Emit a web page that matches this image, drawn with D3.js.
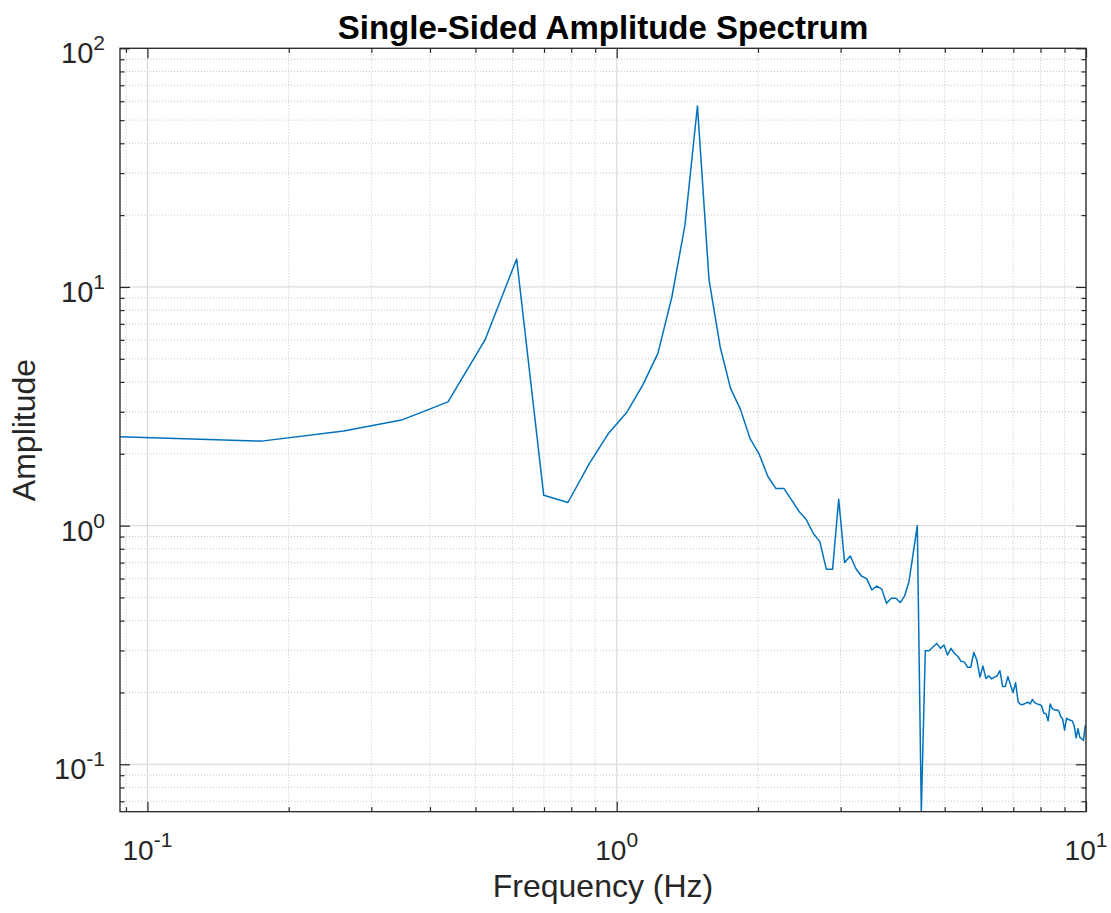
<!DOCTYPE html>
<html>
<head>
<meta charset="utf-8">
<script src="https://cdn.jsdelivr.net/npm/d3@7"></script>
<style>
  html, body { margin: 0; padding: 0; background: #fff; }
  svg { display: block; font-family: "Liberation Sans", Arial, Helvetica, sans-serif; }
</style>
</head>
<body>
<div id="chart"></div>
<script>
// frequency bins (Hz)
const freq = [
  0.0874, 0.175, 0.262, 0.350, 0.437, 0.524, 0.612, 0.699, 0.787, 0.874,
  0.961, 1.049, 1.136, 1.224, 1.311, 1.398, 1.486, 1.573, 1.661, 1.748,
  1.835, 1.923, 2.010, 2.098, 2.185, 2.272, 2.360, 2.447, 2.535, 2.622,
  2.709, 2.797, 2.884, 2.972, 3.059, 3.146, 3.234, 3.321, 3.409, 3.496,
  3.583, 3.671, 3.758, 3.846, 3.933, 4.020, 4.108, 4.195, 4.283, 4.370,
  4.457, 4.545, 4.632, 4.720, 4.807, 4.894, 4.982, 5.069, 5.157, 5.244,
  5.331, 5.419, 5.506, 5.594, 5.681, 5.768, 5.856, 5.943, 6.031, 6.118,
  6.205, 6.293, 6.380, 6.468, 6.555, 6.642, 6.730, 6.817, 6.905, 6.992,
  7.079, 7.167, 7.254, 7.342, 7.429, 7.516, 7.604, 7.691, 7.779, 7.866,
  7.953, 8.041, 8.128, 8.216, 8.303, 8.390, 8.478, 8.565, 8.653, 8.740,
  8.827, 8.915, 9.002, 9.090, 9.177, 9.264, 9.352, 9.439, 9.527, 9.614,
  9.701, 9.789, 9.876, 9.964, 10.051
];

// single-sided amplitude
const amp = [
  2.36, 2.26, 2.49, 2.78, 3.30, 6.0, 13.1, 1.34, 1.25, 1.82,
  2.44, 2.97, 3.88, 5.27, 9.1, 18.2, 57.3, 10.7, 5.62, 3.76,
  3.07, 2.32, 2.0, 1.61, 1.43, 1.43, 1.28, 1.145, 1.06, 0.929,
  0.857, 0.656, 0.656, 1.29, 0.70, 0.746, 0.66, 0.615, 0.60, 0.538,
  0.558, 0.542, 0.473, 0.496, 0.496, 0.476, 0.508, 0.582, 0.766, 1.0,
  0.0633, 0.299, 0.299, 0.31, 0.321, 0.306, 0.316, 0.287, 0.306, 0.292,
  0.283, 0.27, 0.268, 0.255, 0.255, 0.294, 0.272, 0.232, 0.258, 0.229,
  0.235, 0.228, 0.232, 0.235, 0.247, 0.212, 0.212, 0.233, 0.215, 0.2,
  0.22, 0.183, 0.178, 0.178, 0.18, 0.182, 0.179, 0.187, 0.181, 0.179,
  0.178, 0.176, 0.164, 0.163, 0.152, 0.179, 0.171, 0.169, 0.169, 0.168,
  0.159, 0.155, 0.139, 0.156, 0.154, 0.153, 0.152, 0.145, 0.129, 0.141,
  0.13, 0.128, 0.126, 0.145, 0.147
];

const xDecades = [-1, 0, 1];
const yDecades = [-1, 0, 1, 2];

const W = 1111, H = 913;
const pLeft = 120, pTop = 48.3, pRight = 1086, pBottom = 811.7;
const axisColor = "#262626";

const svg = d3.select("#chart").append("svg")
  .attr("width", W)
  .attr("height", H);

svg.append("rect").attr("width", W).attr("height", H).attr("fill", "#fff");

const x = d3.scaleLog().domain([freq[0], 10]).range([pLeft, pRight]);
const y = d3.scaleLog().domain([d3.min(amp), 100]).range([pBottom, pTop]);

const isMajor = v => Math.abs(Math.log10(v) - Math.round(Math.log10(v))) < 1e-9;
const xTicks = x.ticks();
const yTicks = y.ticks();

// grid
const grid = svg.append("g");
grid.selectAll(".gx")
  .data(xTicks)
  .join("line")
  .attr("x1", d => x(d)).attr("x2", d => x(d))
  .attr("y1", pTop).attr("y2", pBottom)
  .attr("stroke", d => isMajor(d) ? "#dcdcdc" : "#bfbfbf")
  .attr("stroke-width", d => isMajor(d) ? 1.2 : 0.9)
  .attr("stroke-dasharray", d => isMajor(d) ? null : "1,2");
grid.selectAll(".gy")
  .data(yTicks)
  .join("line")
  .attr("y1", d => y(d)).attr("y2", d => y(d))
  .attr("x1", pLeft).attr("x2", pRight)
  .attr("stroke", d => isMajor(d) ? "#dcdcdc" : "#bfbfbf")
  .attr("stroke-width", d => isMajor(d) ? 1.2 : 0.9)
  .attr("stroke-dasharray", d => isMajor(d) ? null : "1,2");

// line
svg.append("clipPath").attr("id", "clip")
  .append("rect")
  .attr("x", pLeft).attr("y", pTop)
  .attr("width", pRight - pLeft).attr("height", pBottom - pTop);

const line = d3.line()
  .x((d, i) => x(freq[i]))
  .y(d => y(d));

svg.append("path")
  .datum(amp)
  .attr("clip-path", "url(#clip)")
  .attr("fill", "none")
  .attr("stroke", "#0072BD")
  .attr("stroke-width", 1.5)
  .attr("stroke-linejoin", "round")
  .attr("d", line);

// axes with inward ticks on all four sides
function styleAxis(g, sign, horizontal) {
  g.select(".domain").remove();
  g.selectAll(".tick line")
    .attr("stroke", axisColor)
    .attr("stroke-width", 1.2)
    .attr(horizontal ? "y2" : "x2", d => sign * (isMajor(d) ? 10 : 4.5));
  g.selectAll(".tick text").remove();
}

svg.append("g").attr("transform", `translate(0,${pBottom})`)
  .call(d3.axisBottom(x).tickValues(xTicks).tickSizeOuter(0))
  .call(g => styleAxis(g, -1, true));
svg.append("g").attr("transform", `translate(0,${pTop})`)
  .call(d3.axisTop(x).tickValues(xTicks).tickSizeOuter(0))
  .call(g => styleAxis(g, 1, true));
svg.append("g").attr("transform", `translate(${pLeft},0)`)
  .call(d3.axisLeft(y).tickValues(yTicks).tickSizeOuter(0))
  .call(g => styleAxis(g, 1, false));
svg.append("g").attr("transform", `translate(${pRight},0)`)
  .call(d3.axisRight(y).tickValues(yTicks).tickSizeOuter(0))
  .call(g => styleAxis(g, -1, false));

svg.append("rect")
  .attr("x", pLeft).attr("y", pTop)
  .attr("width", pRight - pLeft).attr("height", pBottom - pTop)
  .attr("fill", "none")
  .attr("stroke", axisColor)
  .attr("stroke-width", 1.3);

// tick labels 10^n
const xl = svg.append("g").selectAll("text")
  .data(xDecades)
  .join("text")
  .attr("x", d => x(Math.pow(10, d)))
  .attr("y", 860)
  .attr("text-anchor", "middle")
  .attr("fill", axisColor)
  .attr("font-size", 28);
xl.append("tspan").text("10");
xl.append("tspan").attr("dy", -13).attr("font-size", 21).text(d => d);

const yl = svg.append("g").selectAll("text")
  .data(yDecades)
  .join("text")
  .attr("x", 105)
  .attr("y", d => y(Math.pow(10, d)) + 15)
  .attr("text-anchor", "end")
  .attr("fill", axisColor)
  .attr("font-size", 29);
yl.append("tspan").text("10");
yl.append("tspan").attr("dy", -13).attr("font-size", 21).text(d => d);

// titles
svg.append("text")
  .attr("x", (pLeft + pRight) / 2)
  .attr("y", 38.5)
  .attr("text-anchor", "middle")
  .attr("font-weight", "bold")
  .attr("font-size", 33)
  .attr("fill", "#000")
  .text("Single-Sided Amplitude Spectrum");

svg.append("text")
  .attr("x", (pLeft + pRight) / 2)
  .attr("y", 897)
  .attr("text-anchor", "middle")
  .attr("font-size", 32)
  .attr("fill", axisColor)
  .text("Frequency (Hz)");

svg.append("text")
  .attr("transform", `translate(35,${(pTop + pBottom) / 2}) rotate(-90)`)
  .attr("text-anchor", "middle")
  .attr("font-size", 32)
  .attr("fill", axisColor)
  .text("Amplitude");
</script>
</body>
</html>
